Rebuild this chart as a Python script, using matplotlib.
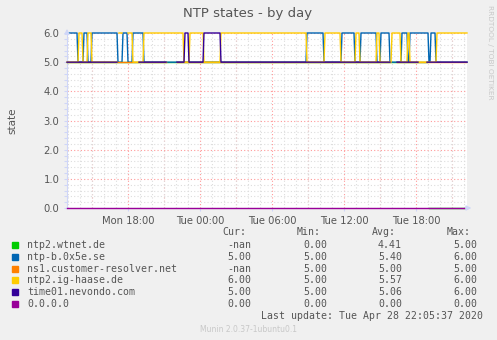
import numpy as np
import matplotlib
matplotlib.use("Agg")
from matplotlib import pyplot as plt
import matplotlib.dates as mdates

# time window of the graph (5 minute samples)
t_start = "2020-04-27T12:55"
t_end = "2020-04-28T22:15"

# periods at state 6 for each server (otherwise state 5)
blue_high = [("04-27 12:55", "04-27 13:45"), ("04-27 14:20", "04-27 14:35"),
             ("04-27 15:00", "04-27 17:05"), ("04-27 17:35", "04-27 17:55"),
             ("04-27 18:25", "04-27 19:15"), ("04-28 08:55", "04-28 10:15"),
             ("04-28 11:50", "04-28 12:50"), ("04-28 13:25", "04-28 14:40"),
             ("04-28 15:05", "04-28 15:45"), ("04-28 16:50", "04-28 17:15"),
             ("04-28 17:30", "04-28 19:00"), ("04-28 19:15", "04-28 19:35")]
yellow_high = [("04-27 13:55", "04-27 14:10"), ("04-27 14:40", "04-27 14:55"),
               ("04-27 17:15", "04-27 17:30"), ("04-27 18:00", "04-27 18:20"),
               ("04-27 19:20", "04-27 22:35"), ("04-27 23:10", "04-28 00:15"),
               ("04-28 01:45", "04-28 08:50"), ("04-28 10:25", "04-28 11:40"),
               ("04-28 13:00", "04-28 13:15"), ("04-28 14:45", "04-28 14:55"),
               ("04-28 16:00", "04-28 16:40"), ("04-28 17:20", "04-28 17:25"),
               ("04-28 19:45", "04-28 22:15")]
purple_high = [("04-27 22:45", "04-27 23:00"), ("04-28 00:20", "04-28 01:40")]

# missing samples
purple_gap = [("04-27 17:10", "04-27 18:50"), ("04-27 21:15", "04-27 22:00"),
              ("04-28 15:55", "04-28 16:20"), ("04-28 18:15", "04-28 18:50")]
yellow_gap = [("04-27 17:10", "04-27 18:10")]
orange_gap = [("04-27 21:15", "04-27 22:00"), ("04-28 15:55", "04-28 16:20"),
              ("04-28 22:15", "04-28 22:15")]
green_gap = [("04-28 19:00", "04-28 19:00"), ("04-28 22:15", "04-28 22:15")]
green_zero = [("04-28 19:05", "04-28 22:10")]

names = ["ntp2.wtnet.de", "ntp-b.0x5e.se", "ns1.customer-resolver.net",
         "ntp2.ig-haase.de", "time01.nevondo.com", "0.0.0.0"]
colors = ["#00CC00", "#0066B3", "#FF8000", "#FFCC00", "#330099", "#990099"]
cur = ["-nan", "5.00", "-nan", "6.00", "5.00", "0.00"]
vmin = ["0.00", "5.00", "5.00", "5.00", "5.00", "0.00"]
avg = ["4.41", "5.40", "5.00", "5.57", "5.06", "0.00"]
vmax = ["5.00", "6.00", "5.00", "6.00", "6.00", "0.00"]

t = np.arange(np.datetime64(t_start), np.datetime64(t_end) + np.timedelta64(5, "m"),
              np.timedelta64(5, "m"))


def ts(s):
    return np.datetime64("2020-" + s.replace(" ", "T"))


def series(base, high=(), gap=(), zero=(), gap_low_only=False):
    v = np.full(len(t), float(base))
    for a, b in high:
        v[(t >= ts(a)) & (t <= ts(b))] = 6.0
    for a, b in zero:
        v[(t >= ts(a)) & (t <= ts(b))] = 0.0
    for a, b in gap:
        m = (t >= ts(a)) & (t <= ts(b))
        if gap_low_only:
            m &= v < 6
        v[m] = np.nan
    return v


data = [
    series(5, gap=green_gap, zero=green_zero),
    series(5, high=blue_high),
    series(5, gap=orange_gap),
    series(5, high=yellow_high, gap=yellow_gap, gap_low_only=True),
    series(5, high=purple_high, gap=purple_gap),
    series(0),
]

fg = "#555555"
axis_col = "#CFD6F8"

fig = plt.figure(figsize=(4.97, 3.40), dpi=100, facecolor="#F0F0F0")
ax = fig.add_axes([67 / 497, (340 - 208) / 340, 400 / 497, 175 / 340])
ax.set_facecolor("white")

for v, c in zip(data, colors):
    ax.plot(t.astype("datetime64[s]").astype(object), v, color=c, lw=1.0,
            clip_on=False, zorder=3)

ax.set_xlim(np.datetime64(t_start).astype(object), np.datetime64(t_end).astype(object))
ax.set_ylim(0, 6)

ax.xaxis.set_major_locator(mdates.HourLocator(byhour=[0, 6, 12, 18]))
ax.xaxis.set_major_formatter(mdates.DateFormatter("%a %H:%M"))
ax.xaxis.set_minor_locator(mdates.HourLocator())
ax.set_yticks(np.arange(0, 6.1, 1.0))
ax.set_yticks(np.arange(0, 6.01, 0.2), minor=True)
ax.yaxis.set_major_formatter(matplotlib.ticker.FormatStrFormatter("%.1f"))

# grids: minor grey dotted, major light red dashed
ax.grid(which="minor", color="#DDDDDD", linestyle=(0, (1, 2)), lw=0.8)
ax.grid(which="major", axis="y", color="#FF9999", linestyle=(0, (1, 2)), lw=0.8)
for h in mdates.HourLocator(byhour=range(0, 24, 3)).tick_values(
        np.datetime64(t_start).astype(object), np.datetime64(t_end).astype(object)):
    ax.axvline(h, color="#FF9999", linestyle=(0, (1, 2)), lw=0.8, zorder=1)

ax.tick_params(which="both", colors=axis_col, labelcolor=fg, labelsize=7.2,
               length=2, width=0.8)
ax.tick_params(axis="x", which="minor", length=0)
for s in ["top", "right"]:
    ax.spines[s].set_visible(False)
for s in ["left", "bottom"]:
    ax.spines[s].set_color(axis_col)
ax.annotate("", xy=(1.018, 0), xytext=(0.99, 0), xycoords="axes fraction",
            arrowprops=dict(arrowstyle="-|>", color=axis_col, lw=1, mutation_scale=7))
ax.annotate("", xy=(0, 1.04), xytext=(0, 0.99), xycoords="axes fraction",
            arrowprops=dict(arrowstyle="-|>", color=axis_col, lw=1, mutation_scale=7))

ax.set_ylabel("state", color=fg, fontsize=7.5)
ax.yaxis.set_label_coords(-(67 - 17) / 400, 0.5)

fig.text(248 / 497, 1 - 13 / 340, "NTP states - by day", ha="center", va="center",
         color=fg, fontsize=9.5)
fig.text(490 / 497, 1 - 5 / 340, "RRDTOOL / TOBI OETIKER", rotation=270,
         ha="center", va="top", color="#C8C8C8", fontsize=5.3)

# legend table
mono = dict(family="DejaVu Sans Mono", fontsize=7.1, color=fg, va="center")
W, H = 497, 340
hy = 232
for lab, xr in zip(["Cur:", "Min:", "Avg:", "Max:"], [246, 321, 396, 471]):
    fig.text(xr / W, 1 - hy / H, lab, ha="right", **mono)
for i, n in enumerate(names):
    y = 245 + i * 11.8
    fig.patches.append(plt.Rectangle(((12) / W, 1 - (y + 3) / H), 6 / W, 6 / H,
                                     transform=fig.transFigure, color=colors[i],
                                     figure=fig))
    fig.text(27 / W, 1 - y / H, n, ha="left", **mono)
    for val, xr in zip([cur[i], vmin[i], avg[i], vmax[i]], [251, 327, 402, 477]):
        fig.text(xr / W, 1 - y / H, val, ha="right", **mono)
fig.text(483 / W, 1 - 316 / H, "Last update: Tue Apr 28 22:05:37 2020", ha="right", **mono)
fig.text(248 / W, 1 - 329 / H, "Munin 2.0.37-1ubuntu0.1", ha="center", va="center",
         color="#C8C8C8", fontsize=5.5)

fig.savefig("out.png", dpi=100, facecolor=fig.get_facecolor())
